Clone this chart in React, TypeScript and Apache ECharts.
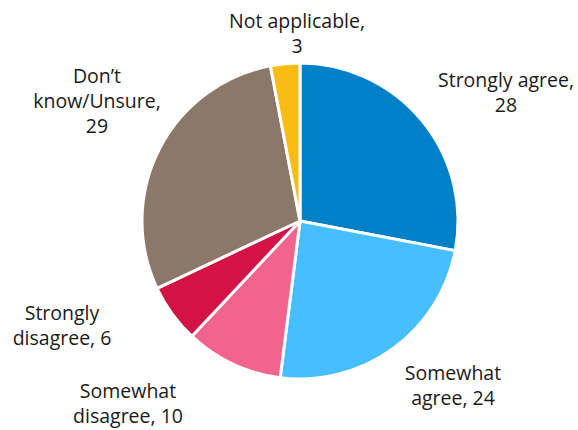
import React, { useEffect, useRef } from "react";
import * as echarts from "echarts";

const categories = [
  "Strongly agree",
  "Somewhat agree",
  "Somewhat disagree",
  "Strongly disagree",
  "Don’t know/Unsure",
  "Not applicable",
];
const values = [28, 24, 10, 6, 29, 3];
const labelTexts = [
  "Strongly agree,\n28",
  "Somewhat\nagree, 24",
  "Somewhat\ndisagree, 10",
  "Strongly\ndisagree, 6",
  "Don’t\nknow/Unsure,\n29",
  "Not applicable,\n3",
];
const colors = ["#0080C6", "#46BEFF", "#F2648C", "#D31245", "#8A7968", "#F9BC15"];
// label centre positions (layout only)
const labelPos: [number, number][] = [
  [506, 92],
  [453, 385],
  [128, 403],
  [62, 325],
  [97, 100],
  [297, 33],
];

export default function App() {
  const ref = useRef<HTMLDivElement>(null);
  useEffect(() => {
    if (!ref.current) return;
    const chart = echarts.init(ref.current, null, { renderer: "svg" });
    chart.setOption({
      animation: false,
      series: [
        {
          type: "pie",
          center: [300, 221],
          radius: 158,
          startAngle: 90,
          clockwise: true,
          data: categories.map((c, i) => ({
            name: c,
            value: values[i],
            itemStyle: { color: colors[i] },
            label: { formatter: labelTexts[i] },
          })),
          itemStyle: { borderColor: "#ffffff", borderWidth: 3 },
          label: {
            show: true,
            position: "outside",
            color: "#1a1a1a",
            fontFamily: "Open Sans",
            fontSize: 19.5,
            lineHeight: 25,
            align: "center",
            overflow: "none",
            width: 220,
          },
          labelLine: { show: false },
          labelLayout: (p: any) => ({
            x: labelPos[p.dataIndex][0],
            y: labelPos[p.dataIndex][1],
            align: "center",
            verticalAlign: "middle",
          }),
        },
      ],
    });
    return () => chart.dispose();
  }, []);
  return <div ref={ref} style={{ width: 578, height: 430, position: "absolute", left: 0, top: 0 }} />;
}
